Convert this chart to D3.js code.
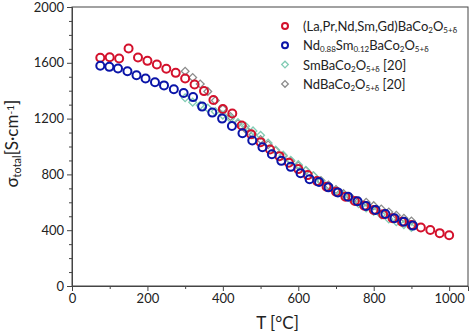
<!DOCTYPE html>
<html>
<head>
<meta charset="utf-8">
<script src="https://cdn.jsdelivr.net/npm/d3@7"></script>
<style>
  body { margin: 0; background: #fff; }
  text { font-family: "Lato", "DejaVu Sans", sans-serif; fill: #222; }
</style>
</head>
<body>
<div id="chart"></div>
<script>
// conductivity vs temperature

// (La,Pr,Nd,Sm,Gd)BaCo2O5+d
const mixT = [75,100,125,150,175,200,225,250,275,300,325,350,375,400,425,450,475,500,525,550,575,600,625,650,675,700,725,750,775,800,825,850,875,900,925,950,975,1000];
const mixS = [1636,1640,1631,1702,1638,1614,1588,1557,1528,1488,1445,1397,1333,1269,1236,1150,1088,1031,979,931,883,838,795,752,712,676,640,609,576,545,514,486,461,438,419,402,379,364];

// Nd0.88Sm0.12BaCo2O5+d
const ndsmT = [75,99,122,147,171,195,220,244,270,296,321,345,372,398,424,452,478,505,530,555,580,606,630,655,680,705,732,757,780,805,831,855,880,904];
const ndsmS = [1579,1571,1559,1540,1511,1488,1461,1438,1411,1383,1354,1286,1243,1200,1147,1095,1043,995,945,897,854,809,766,745,707,671,640,607,574,545,516,486,461,433];

// SmBaCo2O5+d [20]
const smT = [300,320,340,360,380,400,420,440,460,480,500,520,540,560,580,600,620,640,660,680,700,720,740,760,780,800,820,840,860,880,900];
const smS = [1350,1318,1295,1275,1250,1225,1200,1172,1145,1112,1080,1025,975,938,902,870,830,790,750,715,682,650,622,590,560,535,510,480,460,440,420];

// NdBaCo2O5+d [20]
const ndT = [300,320,340,360,380,400,420,440,460,480,500,520,540,560,580,600,620,640,660,680,700,720,740,760,780,800,820,840,860,880,900];
const ndS = [1540,1495,1448,1395,1330,1270,1215,1165,1125,1085,1050,1012,970,932,896,862,826,790,756,724,692,662,634,608,600,576,552,530,507,486,466];

const xTicks = [0,200,400,600,800,1000];
const yTicks = [0,400,800,1200,1600,2000];

const margin = {top: 7, right: 2, bottom: 49, left: 72},
      width = 470 - margin.left - margin.right,
      height = 335 - margin.top - margin.bottom;

const svg = d3.select("#chart")
  .append("svg")
    .attr("width", 470)
    .attr("height", 335)
  .append("g")
    .attr("transform", `translate(${margin.left},${margin.top})`);

const x = d3.scaleLinear().domain([0, 1050]).range([0, width]);
const y = d3.scaleLinear().domain([0, 2000]).range([height, 0]);

// frame
svg.append("rect")
  .attr("width", width).attr("height", height)
  .attr("fill", "none").attr("stroke", "#444").attr("stroke-width", 1);

// minor ticks
svg.append("g")
  .attr("transform", `translate(0,${height})`)
  .call(d3.axisBottom(x).tickValues(d3.range(100, 1050, 200)).tickSize(3).tickFormat(""))
  .call(g => g.select(".domain").remove());
svg.append("g")
  .call(d3.axisLeft(y).tickValues(d3.range(100, 2000, 100).filter(v => v % 400)).tickSize(3).tickFormat(""))
  .call(g => g.select(".domain").remove());

// major axes
svg.append("g")
  .attr("transform", `translate(0,${height})`)
  .call(d3.axisBottom(x).tickValues(xTicks).tickSize(5).tickPadding(3).tickFormat(d3.format("d")))
  .call(g => g.select(".domain").attr("stroke", "#444"))
  .selectAll("text").style("font-size", "13px").attr("fill", "#333");

svg.append("g")
  .call(d3.axisLeft(y).tickValues(yTicks).tickSize(5).tickPadding(3).tickFormat(d3.format("d")))
  .call(g => g.select(".domain").attr("stroke", "#444"))
  .selectAll("text").style("font-size", "13px").attr("fill", "#333");

svg.selectAll(".tick line").attr("stroke", "#444");

// axis labels
svg.append("text")
  .attr("text-anchor", "middle")
  .attr("x", x(545)).attr("y", height + 43)
  .style("font-size", "17px")
  .text("T [°C]");

const yl = svg.append("text")
  .attr("text-anchor", "middle")
  .attr("transform", `translate(-54,${y(1020)}) rotate(-90)`)
  .style("font-size", "17px");
yl.append("tspan").text("σ");
yl.append("tspan").attr("baseline-shift", "-25%").style("font-size", "11px").text("total");
yl.append("tspan").text("[S·cm");
yl.append("tspan").attr("baseline-shift", "40%").style("font-size", "10px").text("-1");
yl.append("tspan").text("]");

// series
const pts = (t, s) => t.map((d, i) => ({t: d, s: s[i]}));
const diamond = d3.symbol().type(d3.symbolSquare).size(30);

svg.selectAll(".nd")
  .data(pts(ndT, ndS)).enter().append("path")
    .attr("d", diamond)
    .attr("transform", d => `translate(${x(d.t)},${y(d.s)}) rotate(45)`)
    .attr("fill", "none").attr("stroke", "#8c8c8c").attr("stroke-width", 1.3);

svg.selectAll(".sm")
  .data(pts(smT, smS)).enter().append("path")
    .attr("d", diamond)
    .attr("transform", d => `translate(${x(d.t)},${y(d.s)}) rotate(45)`)
    .attr("fill", "none").attr("stroke", "#82ccb4").attr("stroke-width", 1.3);

svg.selectAll(".mix")
  .data(pts(mixT, mixS)).enter().append("circle")
    .attr("cx", d => x(d.t)).attr("cy", d => y(d.s)).attr("r", 4)
    .attr("fill", "none").attr("stroke", "#d3112c").attr("stroke-width", 2);

svg.selectAll(".ndsm")
  .data(pts(ndsmT, ndsmS)).enter().append("circle")
    .attr("cx", d => x(d.t)).attr("cy", d => y(d.s)).attr("r", 4)
    .attr("fill", "none").attr("stroke", "#0a14a8").attr("stroke-width", 2);

// legend
const lg = svg.append("g").attr("transform", `translate(${285 - margin.left},${26 - margin.top})`);
const rows = [
  {kind: "c", color: "#d3112c", parts: [["(La,Pr,Nd,Sm,Gd)BaCo",0],["2",-1],["O",0],["5+δ",-1]]},
  {kind: "c", color: "#0a14a8", parts: [["Nd",0],["0.88",-1],["Sm",0],["0.12",-1],["BaCo",0],["2",-1],["O",0],["5+δ",-1]]},
  {kind: "d", color: "#82ccb4", parts: [["SmBaCo",0],["2",-1],["O",0],["5+δ",-1],[" [20]",0]]},
  {kind: "d", color: "#8c8c8c", parts: [["NdBaCo",0],["2",-1],["O",0],["5+δ",-1],[" [20]",0]]}
];
rows.forEach((r, i) => {
  const g = lg.append("g").attr("transform", `translate(0,${i * 19.3})`);
  if (r.kind === "c") {
    g.append("circle").attr("r", 3).attr("fill", "none").attr("stroke", r.color).attr("stroke-width", 2);
  } else {
    g.append("path").attr("d", d3.symbol().type(d3.symbolSquare).size(22))
      .attr("transform", "rotate(45)")
      .attr("fill", "none").attr("stroke", r.color).attr("stroke-width", 1.3);
  }
  const t = g.append("text").attr("x", 18).attr("y", 5).style("font-size", "13px").attr("fill", "#333");
  r.parts.forEach(p => {
    const sp = t.append("tspan").text(p[0]);
    if (p[1] < 0) sp.attr("baseline-shift", "-30%").style("font-size", "8px");
  });
});
</script>
</body>
</html>
